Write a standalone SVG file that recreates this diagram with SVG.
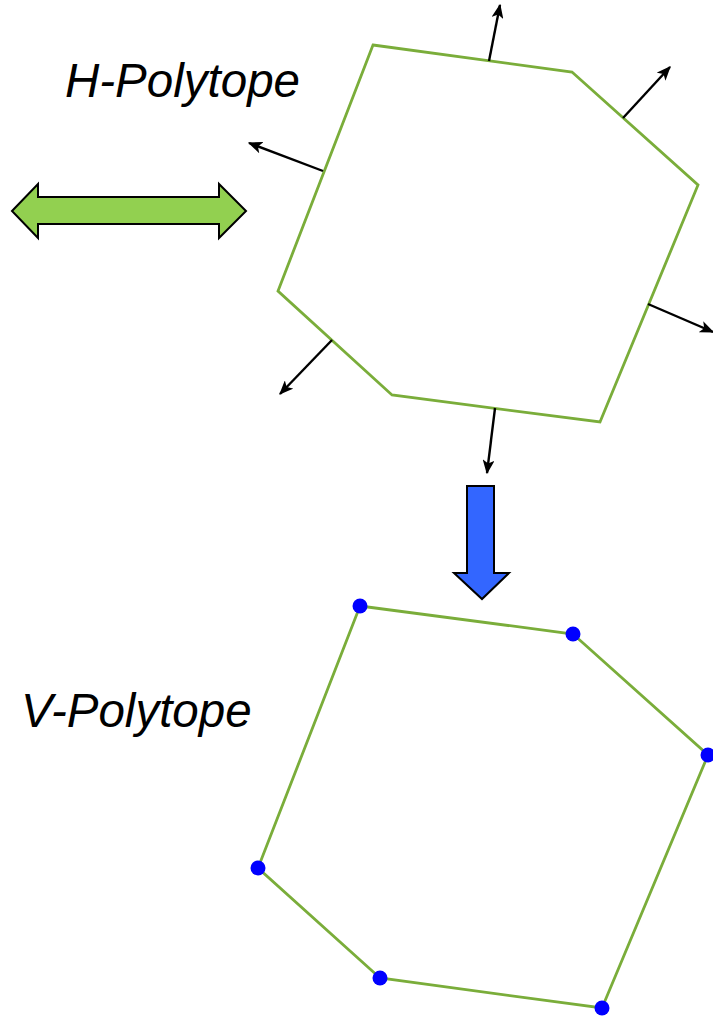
<svg xmlns="http://www.w3.org/2000/svg" width="713" height="1017" viewBox="0 0 713 1017">
  <style>
    .label { font-family: "Liberation Sans", Arial, sans-serif; font-style: italic; font-size: 47.5px; fill: #000; }
    .poly { fill: none; stroke: #7aad3a; stroke-width: 2.8; stroke-linejoin: miter; }
    .normal { stroke: #000; stroke-width: 2.4; fill: none; marker-end: url(#head); }
    .vertex { fill: #0000ff; }
    .bigarrow { stroke: #000; stroke-width: 2; stroke-linejoin: miter; }
  </style>
  <defs>
    <marker id="head" viewBox="0 0 12 10" refX="11" refY="5" markerWidth="6" markerHeight="5" orient="auto" markerUnits="strokeWidth">
      <path d="M0,0 L12,5 L0,10 L3,5 Z" fill="#000"/>
    </marker>
  </defs>
  <rect width="713" height="1017" fill="#fff"/>

  <text class="label" x="65" y="97">H-Polytope</text>
  <text class="label" x="21" y="727">V-Polytope</text>

  <!-- two-way conversion arrow -->
  <g id="double-arrow">
    <path class="bigarrow" fill="#92d050" d="M12,211 L38,184 L38,197 L219,197 L219,184 L246,211 L219,238 L219,224 L38,224 L38,238 Z"/>
  </g>

  <!-- downward arrow -->
  <g id="down-arrow">
    <path class="bigarrow" fill="#3366ff" d="M467,486 L494,486 L494,573 L509,573 L482,599 L454,573 L467,573 Z"/>
  </g>

  <!-- halfspace description -->
  <g id="h-polytope">
    <polygon class="poly" points="373,45 572,72 698,185 600,422 392,395 278,291"/>
  </g>

  <!-- outward facet normals -->
  <g id="normals">
    <line class="normal" x1="489" y1="61" x2="500" y2="5"/>
    <line class="normal" x1="623" y1="118" x2="670" y2="67"/>
    <line class="normal" x1="323" y1="171" x2="249" y2="143"/>
    <line class="normal" x1="648" y1="304" x2="713" y2="332"/>
    <line class="normal" x1="332" y1="340" x2="280" y2="394"/>
    <line class="normal" x1="495" y1="408" x2="487" y2="473"/>
  </g>

  <!-- vertex description -->
  <g id="v-polytope">
    <polygon class="poly" points="360,606 573,634 708,755 602,1008 380,978 258,868"/>
    <circle class="vertex" cx="360" cy="606" r="7.5"/>
    <circle class="vertex" cx="573" cy="634" r="7.5"/>
    <circle class="vertex" cx="708" cy="755" r="7.5"/>
    <circle class="vertex" cx="602" cy="1008" r="7.5"/>
    <circle class="vertex" cx="380" cy="978" r="7.5"/>
    <circle class="vertex" cx="258" cy="868" r="7.5"/>
  </g>
</svg>
